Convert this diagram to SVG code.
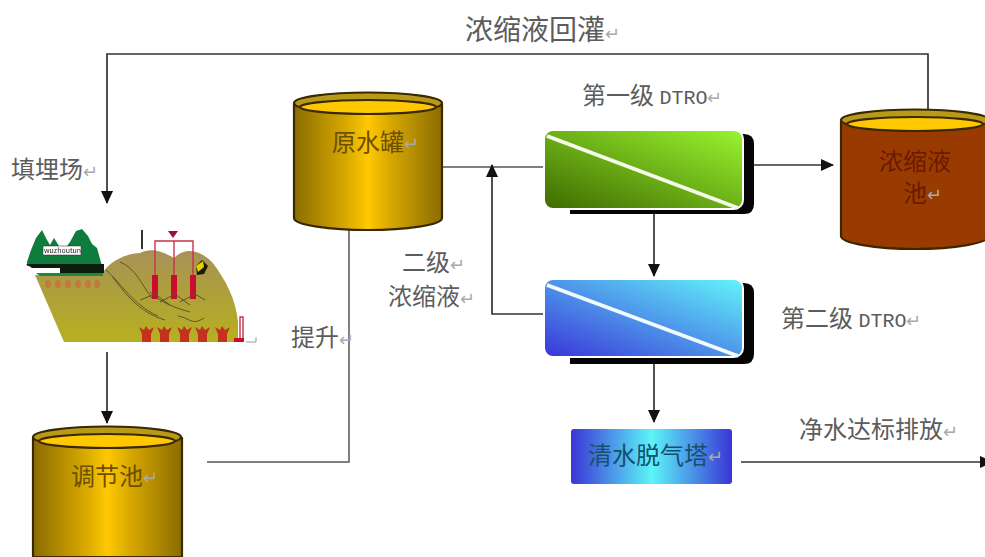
<svg xmlns="http://www.w3.org/2000/svg" width="985" height="557" viewBox="0 0 985 557">
<style>
text{font-family:"Noto Sans CJK SC","Noto Sans",sans-serif;font-size:24px;fill:#5c5c5c}
.r{fill:#aaa;font-size:18px}
.m{font-family:"Liberation Mono",monospace;font-size:20px}
.in{fill:#6b5000}
.br{fill:#6a1a00}
.bl{fill:#14506e}
.c{fill:none;stroke:#555;stroke-width:1.5}
.a{fill:none;stroke:#333;stroke-width:1.7;marker-end:url(#ah)}
.tk{stroke:#3a2800;stroke-width:2.2}
.pan{stroke:#fff;stroke-width:2}
.dg{stroke:#f4fbe8;stroke-width:4}
.sh{fill:#050505}
.red{fill:#c8102e}
.rl{fill:none;stroke:#c8324a;stroke-width:1.4}
.gl{fill:none;stroke:#5e5326;stroke-width:1}
.dot{fill:#c27a3a}
.rt{fill:#c2301c}
.tree{fill:#107c3c}
</style>
<defs>
<marker id="ah" markerWidth="14" markerHeight="14" refX="12" refY="6" orient="auto" markerUnits="userSpaceOnUse"><path d="M0 0L13 6L0 12Z" fill="#111"/></marker>
<linearGradient id="gold" x1="0" x2="1" y1="0" y2="0"><stop offset="0" stop-color="#8a6c00"/><stop offset=".35" stop-color="#d8a800"/><stop offset=".5" stop-color="#ffc800"/><stop offset=".65" stop-color="#d8a800"/><stop offset="1" stop-color="#8a6c00"/></linearGradient>
<linearGradient id="grn" x1="0" y1="1" x2="1" y2="0"><stop offset="0" stop-color="#3f6a00"/><stop offset="1" stop-color="#99f52f"/></linearGradient>
<linearGradient id="blu" x1="0" y1="1" x2="1" y2="0"><stop offset="0" stop-color="#3a34d8"/><stop offset="1" stop-color="#62f6fb"/></linearGradient>
<linearGradient id="twr" x1="0" x2="1" y1="0" y2="0"><stop offset="0" stop-color="#3a35d6"/><stop offset=".5" stop-color="#5cf4f8"/><stop offset="1" stop-color="#3a35d6"/></linearGradient>
<linearGradient id="land" x1="0" x2="0" y1="0" y2="1"><stop offset="0" stop-color="#a8925a"/><stop offset=".45" stop-color="#ad9f3c"/><stop offset="1" stop-color="#b8b020"/></linearGradient>
<filter id="soft" x="-5%" y="-5%" width="110%" height="110%"><feGaussianBlur stdDeviation=".6"/></filter>
</defs>

<g id="connectors">
<path class="a" d="M928 110V54H107V203"/>
<path class="c" d="M442 167H545"/>
<path class="a" d="M545 314H492V165"/>
<path class="c" d="M207 462H349V230"/>
<path class="a" d="M745 165H833"/>
<path class="a" d="M654 213V276"/>
<path class="a" d="M654 362V422"/>
<path class="a" d="M741 462H992"/>
<path class="a" d="M107 352V423"/>
</g>

<g id="landfill" filter="url(#soft)">
<path d="M35 275L103 272C112 260 125 254 140 253C150 248 160 250 174 258C184 248 198 248 212 262C226 280 236 300 238 322V342H64Z" fill="url(#land)"/>
<path class="gl" d="M106 270C122 284 132 304 158 316M112 276C124 292 138 312 165 320M120 262C136 268 142 286 152 298M178 316C190 318 192 326 204 318M150 292C160 302 175 308 190 312"/>
<path class="tree" d="M27 262L31 250L36 238L42 230L47 240L50 245L54 238L59 246L64 250L70 242L76 231L82 229L88 236L92 244L97 248L102 266H27Z"/>
<path d="M26 264H104V273H60V268H32Z" fill="#101a08"/>
<path d="M36 273H103V276H40Z" fill="#1e8a3c"/>
<rect x="43" y="246" width="38" height="9" fill="#fff" stroke="#333" stroke-width=".5"/>
<text x="44" y="253" style="font-size:7px;fill:#222">wuzhoutun</text>
<ellipse class="dot" cx="48" cy="284" rx="3" ry="4"/><ellipse class="dot" cx="58" cy="284" rx="3" ry="4"/><ellipse class="dot" cx="68" cy="284" rx="3" ry="4"/><ellipse class="dot" cx="78" cy="284" rx="3" ry="4"/><ellipse class="dot" cx="88" cy="284" rx="3" ry="4"/><ellipse class="dot" cx="97" cy="284" rx="3" ry="4"/>
<path class="rl" d="M155 275V241H193V275M174 241V275"/>
<path d="M168 231H178L173 238Z" fill="#a01030"/>
<rect class="red" x="152" y="275" width="6" height="24"/><rect class="red" x="171" y="275" width="6" height="24"/><rect class="red" x="190" y="275" width="6" height="24"/>
<path class="gl" d="M140 300L155 294L170 305M160 302L175 294L190 305M180 302L195 294L205 300"/>
<path d="M196 266L202 260L208 266L204 274L197 275Z" fill="#1a1a00"/>
<path d="M196 266L203 261L204 267L198 272Z" fill="#e6d000"/>
<path d="M142 230V249" stroke="#333" stroke-width="2" fill="none"/>
<path class="rt" d="M142 342V334L139 327L144 330L146 326L149 330L154 327L151 334V342ZM160 342V334L157 327L162 330L164 326L167 330L172 327L169 334V342ZM180 342V334L177 327L182 330L184 326L187 330L192 327L189 334V342ZM198 342V334L195 327L200 330L202 326L205 330L210 327L207 334V342ZM218 342V334L215 327L220 330L222 326L225 330L230 327L227 334V342Z"/>
<rect class="red" x="234" y="338" width="10" height="4"/>
<path class="rl" d="M240 338V317H243V338"/>
<path d="M246 342H256V337" fill="none" stroke="#99a" stroke-width="1"/>
</g>

<g id="tank-raw">
<path class="tk" fill="url(#gold)" d="M294 104V218C294 225 330 230 368 230S442 225 442 218V104Z"/>
<ellipse class="tk" cx="368" cy="103" rx="74" ry="10.500" fill="#b89a18"/>
<ellipse class="tk" cx="368" cy="107" rx="68" ry="7" fill="#ffc800"/>
<text class="in" x="332" y="151">原水罐</text><text class="r" x="404" y="150">↵</text>
</g>

<g id="tank-adjust">
<path class="tk" fill="url(#gold)" d="M33 438V557H182V438Z"/>
<ellipse class="tk" cx="107" cy="437" rx="74" ry="10.500" fill="#b89a18"/>
<ellipse class="tk" cx="107" cy="441" rx="68" ry="7" fill="#ffc800"/>
<text class="in" x="71" y="485">调节池</text><text class="r" x="143" y="484">↵</text>
</g>

<g id="tank-concentrate">
<path class="tk" fill="#993b00" d="M841 122V236C841 243 875 249 915 249S989 243 989 236V122Z"/>
<ellipse class="tk" cx="915" cy="120" rx="74" ry="10.500" fill="#b89a18"/>
<ellipse class="tk" cx="915" cy="124" rx="68" ry="7" fill="#ffc800"/>
<text class="br" x="879" y="170">浓缩液</text><text class="br" x="903" y="202">池</text><text class="r" x="927" y="201">↵</text>
</g>

<g id="dtro-1">
<path class="sh" d="M570 195V214H744Q754 214 754 204V144Q754 134 744 134H735V195Z"/>
<rect class="pan" x="544" y="130" width="199" height="79" rx="9" fill="url(#grn)"/>
<path class="dg" d="M547 136L738 208"/>
</g>

<g id="dtro-2">
<path class="sh" d="M570 345V364H744Q754 364 754 354V293Q754 283 744 283H735V345Z"/>
<rect class="pan" x="544" y="279" width="199" height="78" rx="9" fill="url(#blu)"/>
<path class="dg" style="stroke:#f4fbfd" d="M547 285L738 356"/>
</g>

<g id="tower">
<rect x="571" y="429" width="161" height="55" rx="3" fill="url(#twr)"/>
<text class="bl" x="588" y="464">清水脱气塔</text><text class="r" x="708" y="463">↵</text>
</g>

<g id="labels">
<text x="465" y="40" style="font-size:28px">浓缩液回灌<tspan class="r">↵</tspan></text>
<text x="582" y="104">第一级 <tspan class="m">DTRO</tspan><tspan class="r">↵</tspan></text>
<text x="781" y="327">第二级 <tspan class="m">DTRO</tspan><tspan class="r">↵</tspan></text>
<text x="11" y="178">填埋场<tspan class="r">↵</tspan></text>
<text x="402" y="271">二级<tspan class="r">↵</tspan></text>
<text x="388" y="305">浓缩液<tspan class="r">↵</tspan></text>
<text x="291" y="346">提升<tspan class="r">↵</tspan></text>
<text x="799" y="438">净水达标排放<tspan class="r">↵</tspan></text>
</g>
</svg>
